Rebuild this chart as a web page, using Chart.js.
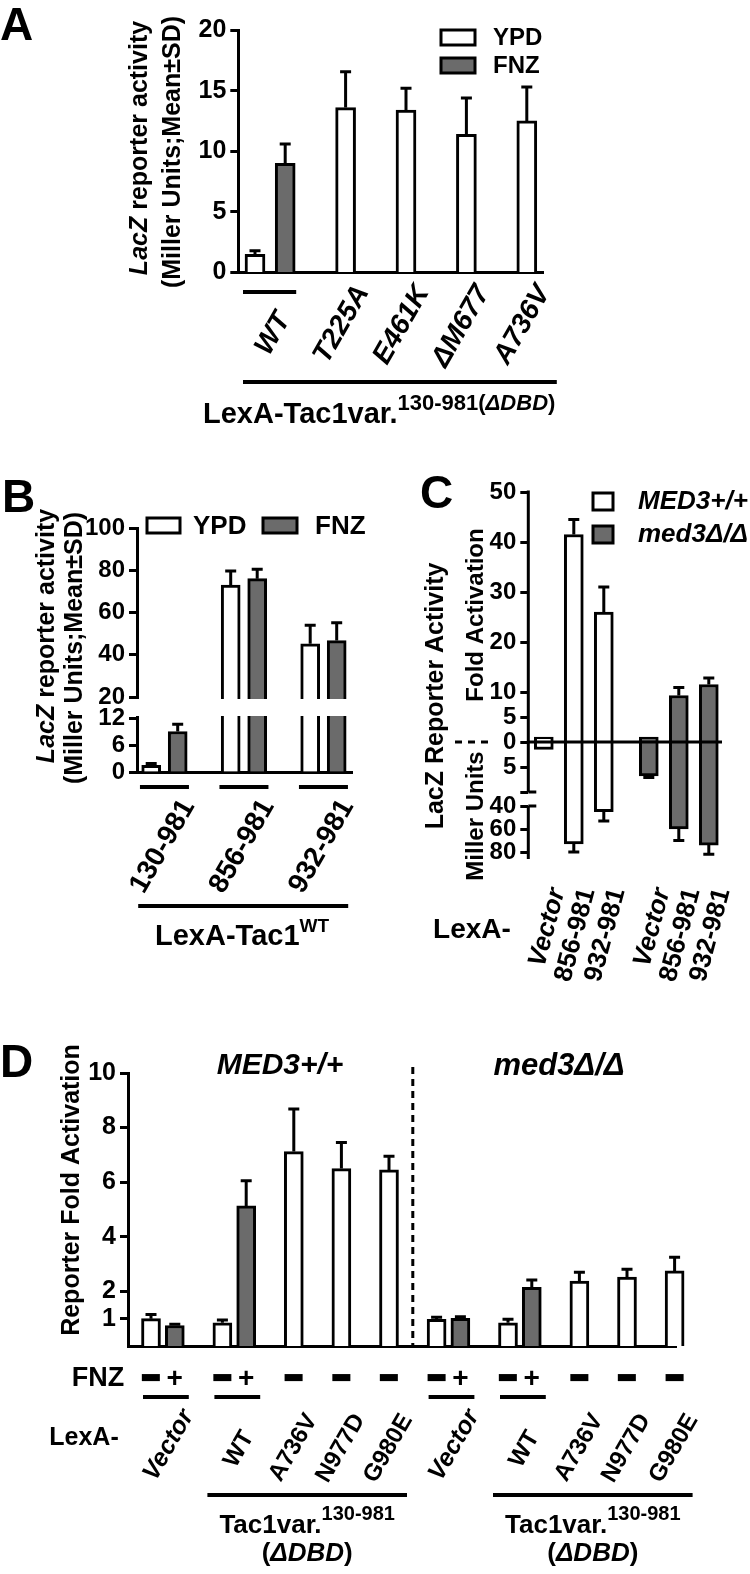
<!DOCTYPE html>
<html>
<head>
<meta charset="utf-8">
<script src="https://cdn.jsdelivr.net/npm/chart.js@4.4.1/dist/chart.umd.min.js"></script>
<style>
  body { margin: 0; background: #fff; width: 750px; height: 1574px; position: relative; overflow: hidden; }
  canvas { position: absolute; left: 0; }
</style>
</head>
<body>
<canvas id="cA" width="750" height="440" style="top:0px"></canvas>
<canvas id="cB" width="750" height="560" style="top:440px"></canvas>
<canvas id="cC" width="750" height="560" style="top:440px"></canvas>
<canvas id="cD" width="750" height="574" style="top:1000px"></canvas>
<script>
/* Tac1 / LexA reporter figure, panels A-D */
const FONT = '"Liberation Sans", Arial, sans-serif';
const GREY = '#6b6b6b';
const AXW = 60;

// --- panel A: LexA-Tac1var.130-981(ΔDBD), Miller units ---
const aLabels = ['WT', 'T225A', 'E461K', '\u0394M677', 'A736V'];
const aYpd = [1.5, 13.6, 13.4, 11.4, 12.5];
const aYpdSd = [0.3, 2.95, 1.8, 3.0, 2.8];
const aFnz = [9.0];
const aFnzSd = [1.6];
const aTicks = [0, 5, 10, 15, 20];

// --- panel B: LexA-Tac1 WT fragments ---
const bLabels = ['130-981', '856-981', '932-981'];
const bYpd = [1.5, 73, 45.2];
const bYpdSd = [0.4, 6.7, 8.8];
const bFnz = [9.0, 76, 46.7];
const bFnzSd = [1.6, 4.5, 8.4];
const bTicks = [0, 6, 12, 20, 40, 60, 80, 100];

// --- panel C: fold activation (up) and Miller units (down) ---
const cLabels = ['Vector', '856-981', '932-981', 'Vector', '856-981', '932-981'];
const cFoldWt = [1.0, 41.5, 26.0];
const cFoldWtSd = [0, 3.0, 5.0];
const cFoldMed = [1.0, 9.3, 11.5];
const cFoldMedSd = [0, 1.6, 1.3];
const cMillerWt = [1.5, 73, 45];
const cMillerWtSd = [0, 7, 8];
const cMillerMed = [6.8, 60, 74];
const cMillerMedSd = [0.3, 10, 8];
const cTicks = [50, 40, 30, 20, 10, 5, 0, -5, -10, -40, -60, -80];

// --- panel D: reporter fold activation ---
const dLabels = ['Vector', 'WT', 'A736V', 'N977D', 'G980E'];
const dFnzRow = ['\u2212', '+', '\u2212', '+', '\u2212', '\u2212', '\u2212'];
const dWtMinus = [1.0, 0.85, 7.12, 6.5, 6.45];
const dWtMinusSd = [0.15, 0.1, 1.56, 0.95, 0.5];
const dWtPlus = [0.75, 5.13];
const dWtPlusSd = [0.05, 0.92];
const dMedMinus = [0.98, 0.85, 2.38, 2.52, 2.75];
const dMedMinusSd = [0.07, 0.13, 0.32, 0.29, 0.5];
const dMedPlus = [1.01, 2.15];
const dMedPlusSd = [0.06, 0.27];
const dTicks = [1, 2, 4, 6, 8, 10];

// --- layout: bar slots along each x axis ---
const slotA = { ypd: [0, 3, 5, 7, 9], fnz: [1] };
const slotB = { ypd: [0, 3, 6], fnz: [1, 4, 7] };
const slotC = { wt: [0, 2, 4], med: [7, 9, 11] };
const slotD = { wtMinus: [0, 3, 6, 8, 10], wtPlus: [1, 4], medMinus: [12, 15, 18, 20, 22], medPlus: [13, 16] };
const fnzSlots = [[0, 1, 3, 4, 6, 8, 10], [12, 13, 15, 16, 18, 20, 22]];

/* --- helpers --- */
function fnt(s, i, w) { return (i ? 'italic ' : '') + (w || 'bold') + ' ' + s + 'px ' + FONT; }

function rich(ctx, parts, x, y, o) {
  o = o || {};
  ctx.save();
  ctx.translate(x, y);
  if (o.rot) ctx.rotate(o.rot * Math.PI / 180);
  ctx.fillStyle = '#000';
  ctx.textAlign = 'left';
  ctx.textBaseline = o.base || 'middle';
  const ws = parts.map(p => { ctx.font = fnt(p.s || o.s, p.i, p.w); return ctx.measureText(p.t).width; });
  const total = ws.reduce((a, b) => a + b, 0);
  let cx = o.align === 'left' ? 0 : o.align === 'right' ? -total : -total / 2;
  parts.forEach((p, k) => {
    ctx.font = fnt(p.s || o.s, p.i, p.w);
    if (o.thick) { ctx.lineWidth = o.thick; ctx.strokeStyle = '#000'; ctx.strokeText(p.t, cx, p.dy || 0); }
    ctx.fillText(p.t, cx, p.dy || 0);
    cx += ws[k];
  });
  ctx.restore();
}

function seg(ctx, x0, y0, x1, y1, w, dash) {
  ctx.save();
  ctx.strokeStyle = '#000'; ctx.lineWidth = w || 3; ctx.setLineDash(dash || []);
  ctx.beginPath(); ctx.moveTo(x0, y0); ctx.lineTo(x1, y1); ctx.stroke();
  ctx.restore();
}

function box(ctx, x, y, w, h, fill) {
  ctx.save();
  ctx.fillStyle = fill; ctx.fillRect(x, y, w, h);
  ctx.lineWidth = 3; ctx.strokeStyle = '#000'; ctx.strokeRect(x, y, w, h);
  ctx.restore();
}

/* y scale with piecewise (broken) mapping */
class BrokenScale extends Chart.LinearScale {
  _off(v) {
    const k = this.options.knots;
    let i = 0;
    while (i < k.length - 2 && v < k[i + 1][0]) i++;
    const a = k[i], b = k[i + 1];
    return a[1] + (v - a[0]) / (b[0] - a[0]) * (b[1] - a[1]);
  }
  getPixelForValue(v) {
    if (v === null || v === undefined || isNaN(v)) return NaN;
    return this.top + this._off(v) / this.options.span * (this.bottom - this.top);
  }
  getValueForPixel(p) {
    const k = this.options.knots;
    const off = (p - this.top) / (this.bottom - this.top) * this.options.span;
    let i = 0;
    while (i < k.length - 2 && off > k[i + 1][1]) i++;
    const a = k[i], b = k[i + 1];
    return a[0] + (off - a[1]) / (b[1] - a[1]) * (b[0] - a[0]);
  }
}
BrokenScale.id = 'broken';
BrokenScale.defaults = {};
Chart.register(BrokenScale);

const errorBars = {
  id: 'errorBars',
  afterDatasetsDraw(chart) {
    const ctx = chart.ctx, ys = chart.scales.y;
    chart.data.datasets.forEach((ds, di) => {
      if (!ds.errors) return;
      chart.getDatasetMeta(di).data.forEach((bar, i) => {
        const v = ds.data[i].y, e = ds.errors[i];
        if (!e) return;
        const tip = ys.getPixelForValue(v + Math.sign(v) * e);
        ctx.save();
        ctx.strokeStyle = '#000'; ctx.lineWidth = 3;
        ctx.beginPath();
        ctx.moveTo(bar.x, bar.y); ctx.lineTo(bar.x, tip);
        ctx.moveTo(bar.x - 5.5, tip); ctx.lineTo(bar.x + 5.5, tip);
        ctx.stroke();
        ctx.restore();
      });
    });
  }
};

function bars(values, sd, slots, color, thick, sign) {
  return {
    data: values.map((v, i) => ({ x: slots[i], y: (sign || 1) * v })),
    errors: sd,
    backgroundColor: color, borderColor: '#000', borderWidth: 3,
    barThickness: thick, grouped: false, clip: false
  };
}

function xRange(area, firstPx, slotPx) {
  return { min: (area.left - firstPx) / slotPx, max: (area.right - firstPx) / slotPx };
}

function yAxis(ticks, size, extra) {
  return Object.assign({
    afterBuildTicks: s => { s.ticks = ticks.map(v => ({ value: v })); },
    afterFit: s => { s.width = AXW; },
    grid: { display: true, drawOnChartArea: false, drawTicks: true, tickLength: 8, tickWidth: 3, tickColor: '#000' },
    border: { display: true, width: 3, color: '#000' },
    ticks: {
      autoSkip: false, padding: 4, color: '#000',
      font: { family: FONT, size: size, weight: 'bold' },
      callback: v => (v === -10 ? '' : String(Math.abs(v)))
    }
  }, extra);
}

function build(id, top, area, xr, yOpts, datasets, deco, showX) {
  const cv = document.getElementById(id);
  return new Chart(cv, {
    type: 'bar',
    data: { datasets },
    options: {
      responsive: false, animation: false, events: [],
      layout: { padding: { left: area.left - AXW, right: cv.width - area.right, top: area.top - top, bottom: top + cv.height - area.bottom } },
      plugins: { legend: { display: false }, tooltip: { enabled: false } },
      scales: {
        x: {
          type: 'linear', min: xr.min, max: xr.max, offset: false, bounds: 'data', display: showX,
          grid: { display: false, offset: false }, ticks: { display: false },
          border: { display: true, width: 3, color: '#000' },
          afterFit: s => { s.height = 0; }
        },
        y: yOpts
      }
    },
    plugins: [errorBars, {
      id: 'deco',
      afterDraw(chart) {
        const ctx = chart.ctx;
        ctx.save();
        ctx.translate(0, -top);
        const X = v => chart.scales.x.getPixelForValue(v);
        const Y = v => chart.scales.y.getPixelForValue(v) + top;
        deco(chart, ctx, X, Y);
        ctx.restore();
      }
    }]
  });
}

/* ---------- Panel A ---------- */
const areaA = { left: 238.3, right: 543.3, top: 30, bottom: 272.5 };
build('cA', 0, areaA, xRange(areaA, 255, 30.2),
  yAxis(aTicks, 25, { min: 0, max: 20 }),
  [bars(aYpd, aYpdSd, slotA.ypd, '#fff', 20), bars(aFnz, aFnzSd, slotA.fnz, GREY, 20)],
  (ch, ctx, X) => {
    rich(ctx, [{ t: 'A' }], 0, 40, { s: 46, align: 'left', base: 'alphabetic' });
    rich(ctx, [{ t: 'LacZ', i: 1 }, { t: ' reporter activity' }], 140, 148, { s: 25, rot: -90 });
    rich(ctx, [{ t: '(Miller Units;Mean\u00b1SD)' }], 173, 152, { s: 25, rot: -90 });
    box(ctx, 441, 30, 34, 15, '#fff');
    rich(ctx, [{ t: 'YPD' }], 493, 38, { s: 24, align: 'left' });
    box(ctx, 441, 58, 34, 15, GREY);
    rich(ctx, [{ t: 'FNZ' }], 493, 66, { s: 24, align: 'left' });
    seg(ctx, X(0) - 12, 292, X(1) + 11, 292, 4);
    rich(ctx, [{ t: aLabels[0], i: 1 }], (X(0) + X(1)) / 2 + 14, 315, { s: 28, rot: -60, align: 'right' });
    for (let i = 1; i < aLabels.length; i++) {
      rich(ctx, [{ t: aLabels[i], i: 1 }], X(slotA.ypd[i]) + 17, 288, { s: 28, rot: -60, align: 'right' });
    }
    seg(ctx, X(0) - 12, 382, X(9) + 30, 382, 4);
    rich(ctx, [{ t: 'LexA-Tac1var.', s: 29 }, { t: '130-981(', s: 22, dy: -13 }, { t: '\u0394DBD', s: 22, i: 1, dy: -13 }, { t: ')', s: 22, dy: -13 }],
      203, 423, { align: 'left', base: 'alphabetic' });
  }, true);

/* ---------- Panel B ---------- */
const areaB = { left: 137, right: 352, top: 528, bottom: 772 };
build('cB', 440, areaB, xRange(areaB, 151.2, 26.5),
  yAxis(bTicks, 24, { type: 'broken', min: 0, max: 100, span: 244, knots: [[100, 0], [20, 169], [12, 190], [0, 244]] }),
  [bars(bYpd, bYpdSd, slotB.ypd, '#fff', 19), bars(bFnz, bFnzSd, slotB.fnz, GREY, 19)],
  (ch, ctx, X, Y) => {
    const a = ch.chartArea;
    // axis break
    ctx.fillStyle = '#fff';
    ctx.fillRect(a.left - 3, Y(20) + 2, a.right - a.left + 10, Y(12) - Y(20) - 4);
    rich(ctx, [{ t: 'B' }], 2, 512, { s: 46, align: 'left', base: 'alphabetic' });
    rich(ctx, [{ t: 'LacZ', i: 1 }, { t: ' reporter activity' }], 47, 636, { s: 25, rot: -90 });
    rich(ctx, [{ t: '(Miller Units;Mean\u00b1SD)' }], 75, 648, { s: 25, rot: -90 });
    box(ctx, 147, 518, 33, 15, '#fff');
    rich(ctx, [{ t: 'YPD' }], 193, 527, { s: 26, align: 'left' });
    box(ctx, 263, 518, 34, 15, GREY);
    rich(ctx, [{ t: 'FNZ' }], 315, 527, { s: 26, align: 'left' });
    for (let g = 0; g < bLabels.length; g++) {
      const c = (X(slotB.ypd[g]) + X(slotB.fnz[g])) / 2;
      seg(ctx, c - 24.5, 787, c + 24.5, 787, 4);
      rich(ctx, [{ t: bLabels[g] }], c + 24, 802, { s: 28, rot: -60, align: 'right' });
    }
    seg(ctx, X(0) - 13, 906, X(7) + 11.5, 906, 4);
    rich(ctx, [{ t: 'LexA-Tac1', s: 29 }, { t: 'WT', s: 19, dy: -13 }], 155, 945, { align: 'left', base: 'alphabetic' });
  }, true);

/* ---------- Panel C ---------- */
const areaC = { left: 528.3, right: 722, top: 492, bottom: 859 };
build('cC', 440, areaC, xRange(areaC, 543.8, 15),
  yAxis(cTicks, 24, {
    type: 'broken', min: -86, max: 50, span: 367,
    knots: [[50, 0], [0, 250], [-10, 300], [-40, 314], [-80, 360], [-86, 367]],
    border: { display: false }
  }),
  [bars(cFoldWt, cFoldWtSd, slotC.wt, '#fff', 19),
   bars(cMillerWt, cMillerWtSd, slotC.wt, '#fff', 19, -1),
   bars(cFoldMed, cFoldMedSd, slotC.med, GREY, 19),
   bars(cMillerMed, cMillerMedSd, slotC.med, GREY, 19, -1)],
  (ch, ctx, X, Y) => {
    const a = ch.chartArea;
    seg(ctx, a.left, Y(50) - 1.5, a.left, Y(-10), 3);
    seg(ctx, a.left, Y(-40), a.left, Y(-86), 3);
    seg(ctx, a.left, Y(-10), a.left + 8, Y(-10), 3);
    seg(ctx, a.left, Y(-40), a.left + 8, Y(-40), 3);
    seg(ctx, a.left, Y(0), a.right, Y(0), 3);
    seg(ctx, 455, Y(0), 494, Y(0), 3, [7, 6]);
    rich(ctx, [{ t: 'C' }], 420, 508, { s: 46, align: 'left', base: 'alphabetic' });
    rich(ctx, [{ t: 'LacZ Reporter Activity' }], 436, 696, { s: 25, rot: -90 });
    rich(ctx, [{ t: 'Fold Activation' }], 476, 615, { s: 24, rot: -90 });
    rich(ctx, [{ t: 'Miller Units' }], 476, 816, { s: 24, rot: -90 });
    box(ctx, 593, 493, 20, 17, '#fff');
    rich(ctx, [{ t: 'MED3+/+', i: 1 }], 638, 502, { s: 26, align: 'left' });
    box(ctx, 593, 526, 20, 17, GREY);
    rich(ctx, [{ t: 'med3\u0394/\u0394', i: 1 }], 638, 535, { s: 26, align: 'left' });
    rich(ctx, [{ t: 'LexA-' }], 472, 930, { s: 28 });
    const slots = slotC.wt.concat(slotC.med);
    cLabels.forEach((l, i) => {
      rich(ctx, [{ t: l, i: l === 'Vector' ? 1 : 0 }], X(slots[i]) + 14, 889, { s: 26, rot: -75, align: 'right' });
    });
  }, false);

/* ---------- Panel D ---------- */
const areaD = { left: 128, right: 676, top: 1073, bottom: 1346 };
build('cD', 1000, areaD, xRange(areaD, 151, 23.8),
  yAxis(dTicks, 25, { min: 0, max: 10 }),
  [bars(dWtMinus, dWtMinusSd, slotD.wtMinus, '#fff', 19),
   bars(dWtPlus, dWtPlusSd, slotD.wtPlus, GREY, 19),
   bars(dMedMinus, dMedMinusSd, slotD.medMinus, '#fff', 19),
   bars(dMedPlus, dMedPlusSd, slotD.medPlus, GREY, 19)],
  (ch, ctx, X, Y) => {
    rich(ctx, [{ t: 'D' }], 0, 1077, { s: 46, align: 'left', base: 'alphabetic' });
    rich(ctx, [{ t: 'MED3+/+', i: 1 }], 280, 1074, { s: 30, base: 'alphabetic' });
    rich(ctx, [{ t: 'med3\u0394/\u0394', i: 1 }], 559, 1075, { s: 31, base: 'alphabetic' });
    seg(ctx, X(11), 1067, X(11), Y(0), 3, [7, 5]);
    rich(ctx, [{ t: 'Reporter Fold Activation' }], 72, 1190, { s: 25, rot: -90 });
    rich(ctx, [{ t: 'FNZ' }], 98, 1379, { s: 27 });
    rich(ctx, [{ t: 'LexA-' }], 84, 1438, { s: 25 });
    const groups = [
      { minus: slotD.wtMinus, plus: slotD.wtPlus },
      { minus: slotD.medMinus, plus: slotD.medPlus }
    ];
    groups.forEach((g, gi) => {
      fnzSlots[gi].forEach((s, k) => {
        rich(ctx, [{ t: dFnzRow[k] }], X(s), 1379, { s: 28, thick: dFnzRow[k] === '+' ? 0 : 4 });
      });
      for (let p = 0; p < 2; p++) {
        seg(ctx, X(g.minus[p]) - 8, 1397, X(g.plus[p]) + 14, 1397, 4);
      }
      const vc = (X(g.minus[0]) + X(g.plus[0])) / 2;
      const wc = (X(g.minus[1]) + X(g.plus[1])) / 2;
      rich(ctx, [{ t: dLabels[0], i: 1 }], vc + 25, 1412, { s: 25, rot: -60, align: 'right' });
      rich(ctx, [{ t: dLabels[1] }], wc + 14, 1433, { s: 24, rot: -60, align: 'right' });
      for (let i = 2; i < dLabels.length; i++) {
        rich(ctx, [{ t: dLabels[i] }], X(g.minus[i]) + 18, 1416, { s: 24, rot: -60, align: 'right' });
      }
      const b0 = X(g.minus[1]) - 15, b1 = X(g.minus[4]) + 18;
      seg(ctx, b0, 1495, b1, 1495, 4);
      rich(ctx, [{ t: 'Tac1var.', s: 26 }, { t: '130-981', s: 20, dy: -13 }], (b0 + b1) / 2, 1533, { base: 'alphabetic' });
      rich(ctx, [{ t: '(' }, { t: '\u0394DBD', i: 1 }, { t: ')' }], (b0 + b1) / 2, 1561, { s: 26, base: 'alphabetic' });
    });
  }, true);
</script>
</body>
</html>
